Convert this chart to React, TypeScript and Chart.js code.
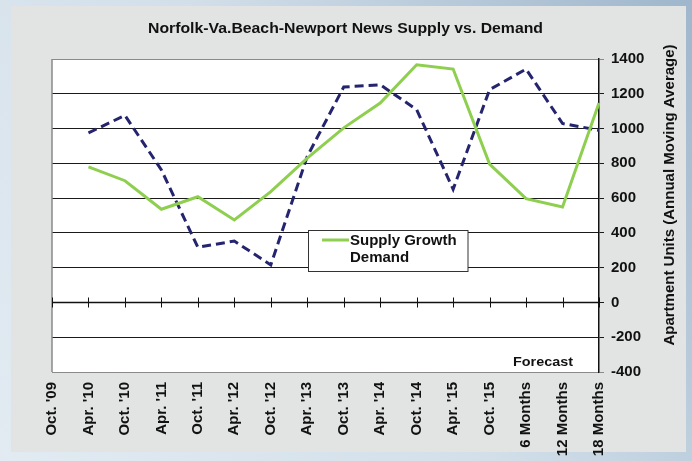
import React, { useEffect, useRef } from "react";
import { Chart, registerables } from "chart.js";

Chart.register(...registerables);

const categories = [
  "Oct. '09", "Apr. '10", "Oct. '10", "Apr. '11", "Oct. '11", "Apr. '12", "Oct. '12",
  "Apr. '13", "Oct. '13", "Apr. '14", "Oct. '14", "Apr. '15", "Oct. '15",
  "6 Months", "12 Months", "18 Months",
];
const supplyGrowth = [null, 780, 700, 536, 608, 474, 637, 830, 1004, 1147, 1367, 1342, 796, 597, 549, 1147];
const demand = [null, 975, 1076, 762, 317, 353, 216, 840, 1239, 1252, 1109, 651, 1224, 1342, 1029, 990];
const yMin = -400;
const yMax = 1400;
const yStep = 200;

const titleText = "Norfolk-Va.Beach-Newport News Supply vs. Demand";
const yAxisTitle = "Apartment Units (Annual Moving Average)";
const legendLabels = ["Supply Growth", "Demand"];
const forecastText = "Forecast";

const FONT = '"Liberation Sans", Arial, sans-serif';
const GREEN = "#8fcf4f";
const NAVY = "#25246e";

function drawScaledText(ctx: CanvasRenderingContext2D, text: string, cx: number, cy: number, font: string, targetW: number) {
  ctx.save();
  ctx.font = font;
  const w = ctx.measureText(text).width;
  const sx = targetW / w;
  ctx.translate(cx, cy);
  ctx.scale(sx, 1);
  ctx.textAlign = "center";
  ctx.textBaseline = "middle";
  ctx.fillStyle = "#111";
  ctx.fillText(text, 0, 0);
  ctx.restore();
}

const decorPlugin = {
  id: "decor",
  beforeDraw(chart: any) {
    const ctx = chart.ctx as CanvasRenderingContext2D;
    const { width, height, chartArea } = chart;
    ctx.save();
    const g = ctx.createLinearGradient(0, height, width, 0);
    g.addColorStop(0, "#e2ebf2");
    g.addColorStop(0.5, "#d2dfe9");
    g.addColorStop(1, "#9fb6cc");
    ctx.fillStyle = g;
    ctx.fillRect(0, 0, width, height);
    ctx.fillStyle = "#e2e4e3";
    ctx.fillRect(11, 6, 675, 446);
    ctx.fillStyle = "#ffffff";
    ctx.fillRect(chartArea.left, chartArea.top, chartArea.right - chartArea.left, chartArea.bottom - chartArea.top);
    ctx.restore();
  },
  beforeDatasetsDraw(chart: any) {
    const ctx = chart.ctx as CanvasRenderingContext2D;
    const { chartArea } = chart;
    const xs = chart.scales.x;
    const ys = chart.scales.y;
    ctx.save();
    ctx.strokeStyle = "#8a8a8a";
    ctx.lineWidth = 1.5;
    ctx.beginPath();
    ctx.moveTo(chartArea.left, chartArea.top);
    ctx.lineTo(chartArea.left, chartArea.bottom);
    ctx.stroke();
    const y0 = Math.round(ys.getPixelForValue(0)) + 0.5;
    ctx.strokeStyle = "#111";
    ctx.lineWidth = 1.5;
    ctx.beginPath();
    ctx.moveTo(chartArea.left, y0);
    ctx.lineTo(chartArea.right, y0);
    ctx.stroke();
    ctx.lineWidth = 1;
    for (let i = 0; i < categories.length; i++) {
      const x = Math.round(xs.getPixelForValue(i)) + 0.5;
      ctx.beginPath();
      ctx.moveTo(x, y0 - 5);
      ctx.lineTo(x, y0 + 5);
      ctx.stroke();
    }
    ctx.restore();
  },
  afterDatasetsDraw(chart: any) {
    const ctx = chart.ctx as CanvasRenderingContext2D;
    ctx.save();
    ctx.fillStyle = "#ffffff";
    ctx.fillRect(308.5, 230.5, 159.5, 41);
    ctx.strokeStyle = "#333";
    ctx.lineWidth = 1;
    ctx.strokeRect(308.5, 230.5, 159.5, 41);
    ctx.strokeStyle = GREEN;
    ctx.lineWidth = 3;
    ctx.beginPath();
    ctx.moveTo(322, 240);
    ctx.lineTo(349, 240);
    ctx.stroke();
    ctx.fillStyle = "#111";
    ctx.font = `bold 15px ${FONT}`;
    ctx.textAlign = "left";
    ctx.textBaseline = "middle";
    ctx.fillText(legendLabels[0], 350, 240.5);
    ctx.fillText(legendLabels[1], 350, 258);
    ctx.restore();

    drawScaledText(ctx, forecastText, 543, 362, `bold 13px ${FONT}`, 60);
    drawScaledText(ctx, titleText, 345.5, 29, `bold 14px ${FONT}`, 395);
    ctx.save();
    ctx.translate(670, 195);
    ctx.rotate(-Math.PI / 2);
    ctx.font = `bold 15px ${FONT}`;
    ctx.fillStyle = "#111";
    ctx.textAlign = "center";
    ctx.textBaseline = "middle";
    ctx.fillText(yAxisTitle, 0, 0);
    ctx.restore();
  },
};

export default function App() {
  const ref = useRef<HTMLCanvasElement | null>(null);
  useEffect(() => {
    if (!ref.current) return;
    const chart = new Chart(ref.current, {
      type: "line",
      data: {
        labels: categories,
        datasets: [
          {
            label: legendLabels[0],
            data: supplyGrowth,
            borderColor: GREEN,
            backgroundColor: GREEN,
            borderWidth: 3,
            pointRadius: 0,
            tension: 0,
            fill: false,
          },
          {
            label: legendLabels[1],
            data: demand,
            borderColor: NAVY,
            backgroundColor: NAVY,
            borderWidth: 3,
            borderDash: [9, 5],
            pointRadius: 0,
            tension: 0,
            fill: false,
          },
        ],
      },
      options: {
        responsive: false,
        animation: false,
        layout: { padding: { left: 52, top: 59, right: 0, bottom: 0 } },
        plugins: {
          legend: { display: false },
          title: { display: false },
          tooltip: { enabled: false },
        },
        scales: {
          x: {
            type: "category",
            offset: false,
            grid: { display: false, drawTicks: false },
            border: { display: false },
            ticks: {
              autoSkip: false,
              maxRotation: 90,
              minRotation: 90,
              padding: 10,
              color: "#111",
              font: { family: FONT, size: 15, weight: "bold" },
            },
            afterFit: (s: any) => {
              s.height = 89;
            },
          },
          y: {
            position: "right",
            min: yMin,
            max: yMax,
            ticks: {
              stepSize: yStep,
              padding: 7,
              color: "#111",
              font: { family: FONT, size: 15, weight: "bold" },
              callback: (v: any) => String(v),
            },
            grid: {
              color: (c: any) =>
                c.tick && (c.tick.value === yMax || c.tick.value === yMin) ? "#8a8a8a" : "#1a1a1a",
              lineWidth: 1,
              tickLength: 5,
            },
            border: { color: "#111", width: 1.5 },
            afterFit: (s: any) => {
              s.width = 93;
            },
          },
        },
      } as any,
      plugins: [decorPlugin],
    });
    return () => chart.destroy();
  }, []);
  return (
    <div style={{ position: "fixed", left: 0, top: 0, width: 692, height: 461 }}>
      <canvas ref={ref} width={692} height={461} style={{ display: "block", width: 692, height: 461 }} />
    </div>
  );
}
